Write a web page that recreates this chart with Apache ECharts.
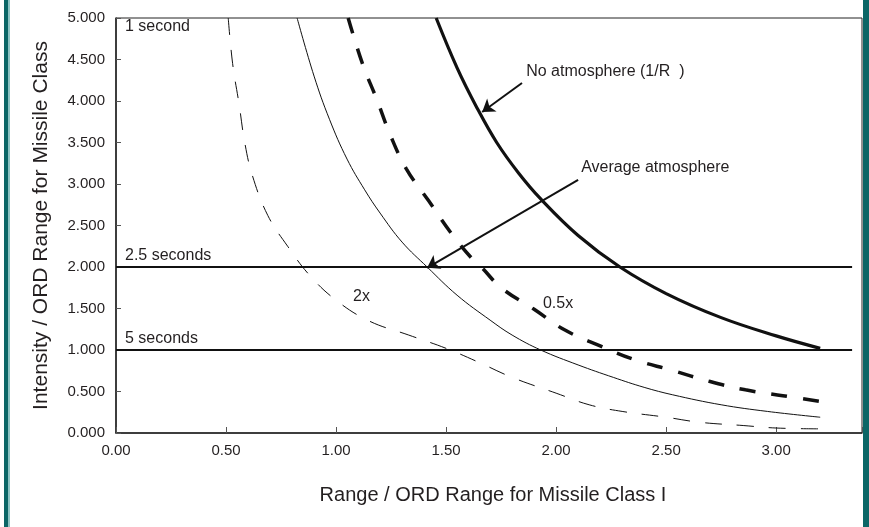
<!DOCTYPE html>
<html><head><meta charset="utf-8">
<script src="https://cdn.jsdelivr.net/npm/echarts@6/dist/echarts.min.js"></script>
<style>
html,body{margin:0;padding:0;background:#fff;}
#wrap{position:relative;width:869px;height:527px;overflow:hidden;}
#chart{position:absolute;left:0;top:0;width:869px;height:527px;}
.strip{position:absolute;top:0;height:527px;}
</style></head>
<body><div id="wrap"><div id="chart"></div>
<div class="strip" style="left:4px;width:4px;background:#0b6666;"></div>
<div class="strip" style="left:8px;width:2px;background:#8cc2c2;"></div>
<div class="strip" style="left:863px;width:6px;background:#0b6666;"></div>
</div>
<script>
// Data
const xTicks = ['0.00','0.50','1.00','1.50','2.00','2.50','3.00'];
const yTicks = ['0.000','0.500','1.000','1.500','2.000','2.500','3.000','3.500','4.000','4.500','5.000'];

const noAtmR = [1.455,1.55,1.64,1.73,1.83,1.93,2.1,2.29,2.5,2.75,3.0,3.2];
const noAtmI = [5.0,4.40,3.92,3.50,3.13,2.82,2.38,2.0,1.68,1.39,1.17,1.02];

const avgR = [0.823,0.9,0.97,1.05,1.13,1.2,1.3,1.414,1.55,1.7,1.8,1.93,2.1,2.26,2.4,2.53,2.75,2.96,3.2];
const avgI = [5.0,4.3,3.78,3.3,2.93,2.65,2.3,2.0,1.66,1.36,1.18,1.0,0.82,0.67,0.55,0.46,0.34,0.26,0.19];

const halfR = [1.055,1.12,1.185,1.245,1.32,1.42,1.525,1.625,1.66,1.75,1.9,2.04,2.2,2.36,2.52,2.7,2.86,3.03,3.2];
const halfI = [5.0,4.45,4.02,3.6,3.18,2.8,2.4,2.08,2.0,1.75,1.49,1.24,1.05,0.88,0.76,0.62,0.52,0.45,0.38];

const dblR = [0.51,0.53,0.56,0.585,0.62,0.69,0.78,0.88,1.0,1.15,1.33,1.5,1.65,1.8,2.0,2.15,2.3,2.5,2.65,2.85,3.0,3.2];
const dblI = [5.0,4.45,3.95,3.5,3.1,2.62,2.25,1.9,1.6,1.35,1.18,1.02,0.85,0.67,0.48,0.34,0.26,0.19,0.13,0.09,0.06,0.05];

const refLevels = [2.0, 1.0];
const refExtent = [0, 3.345];

const labels = [
  {text:'1 second', x:0.041, y:4.88},
  {text:'2.5 seconds', x:0.041, y:2.12},
  {text:'5 seconds', x:0.041, y:1.13},
  {text:'No atmosphere (1/R  )', x:1.864, y:4.34},
  {text:'Average atmosphere', x:2.114, y:3.19},
  {text:'2x', x:1.077, y:1.63},
  {text:'0.5x', x:1.94, y:1.55}
];
const arrows = [
  {from:[1.845,4.217], to:[1.664,3.867]},
  {from:[2.10,3.05], to:[1.414,1.99]}
];

const zip = (a,b)=>a.map((v,i)=>[v,b[i]]);
const FONT = 'Liberation Sans, Arial, sans-serif';
const TXT = '#231f20';

const chart = echarts.init(document.getElementById('chart'), null, {renderer:'canvas'});
const curve = (r,i,w,type)=>({type:'line', data:zip(r,i), smooth:0.4, symbol:'none',
  lineStyle:{color:'#111',width:w,type:type||'solid'}});
const series = [
  curve(noAtmR,noAtmI,3.2),
  curve(avgR,avgI,1),
  curve(halfR,halfI,3.5,[16,16]),
  curve(dblR,dblI,1,[17,15])
];
refLevels.forEach(l=>series.push({type:'line', data:[[refExtent[0],l],[refExtent[1],l]], symbol:'none', lineStyle:{color:'#111',width:2.2}}));
series.push({type:'line', data:[], symbol:'none',
  markLine:{silent:true, symbol:['none','arrow'], symbolSize:12, animation:false,
    lineStyle:{color:'#111',width:2,type:'solid'}, label:{show:false},
    data:arrows.map(a=>[{coord:a.from, symbol:'none'},{coord:a.to, symbol:'arrow', symbolSize:12}])}});

chart.setOption({
  animation:false,
  backgroundColor:'#fff',
  grid:{left:116,right:7,top:18,bottom:94,show:true,borderColor:'#222',borderWidth:1},
  xAxis:{type:'value', min:0, max:3.39, interval:0.5,
    name:'Range / ORD Range for Missile Class I', nameLocation:'middle', nameGap:52,
    nameTextStyle:{fontFamily:FONT,fontSize:20,color:TXT,padding:[0,0,0,8]},
    axisLine:{lineStyle:{color:'#222',width:1.5}},
    axisTick:{inside:true,length:6,lineStyle:{color:'#555'}},
    splitLine:{show:false},
    axisLabel:{fontFamily:FONT,fontSize:15,color:TXT,margin:10,
      formatter:(v)=>{const i=Math.round(v/0.5);return (Math.abs(v-i*0.5)<1e-6 && xTicks[i])?xTicks[i]:'';}}},
  yAxis:{type:'value', min:0, max:5, interval:0.5,
    name:'Intensity / ORD Range for Missile Class', nameLocation:'middle', nameGap:64,
    nameTextStyle:{fontFamily:FONT,fontSize:21,color:TXT},
    axisLine:{show:true,lineStyle:{color:'#222',width:1.5}},
    axisTick:{show:true,inside:true,length:5,lineStyle:{color:'#555'}},
    splitLine:{show:false},
    axisLabel:{fontFamily:FONT,fontSize:15,color:TXT,margin:11,
      formatter:(v)=>{const i=Math.round(v/0.5);return yTicks[i]||'';}}},
  series:series
});

chart.setOption({graphic: labels.map(l=>{
  const p = chart.convertToPixel({gridIndex:0}, [l.x,l.y]);
  return {type:'text', left:p[0], top:p[1]-9, silent:true,
    style:{text:l.text, fill:TXT, font:'16px '+FONT, textVerticalAlign:'top'}};
})});
</script></body></html>
